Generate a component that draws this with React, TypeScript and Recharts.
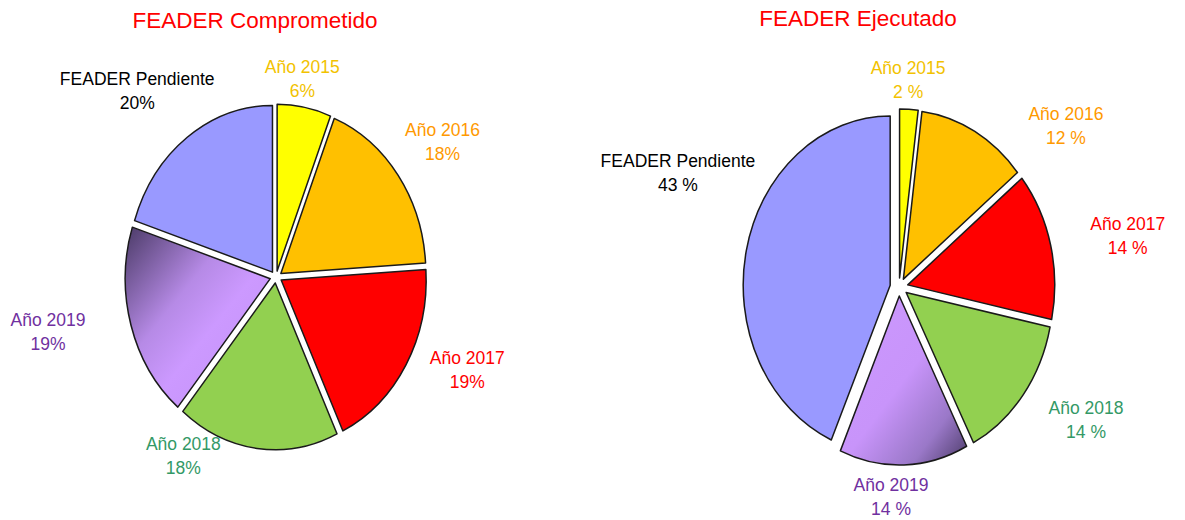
import React from 'react'
import { PieChart, Pie, Cell } from 'recharts'

// slice order runs clockwise from 12 o'clock
const sliceNames = ['Año 2015', 'Año 2016', 'Año 2017', 'Año 2018', 'Año 2019', 'FEADER Pendiente']
const comprometidoValues = [6, 18, 19, 18, 19, 20]
const ejecutadoValues = [2, 12, 14, 14, 14, 43]

const sliceColors = ['#ffff00', '#ffc000', '#ff0000', '#92d050', '#cc99ff', '#9999ff']
const labelColors = ['#f2c200', '#ff9900', '#ff0000', '#339966', '#7030a0', '#000000']

// label nudges away from the radial anchor, per slice
const leftNudge = [[-9, 15], [14, -8], [29, -17], [-69, -36], [-47, -5], [-28, -11]]
const rightNudge = [[-3, 12], [74, 31], [43, 1], [35, 0], [-14, -10], [-34, -69]]

const RAD = Math.PI / 180
const FONT = '"Liberation Sans", Arial, sans-serif'

type Stop = [number, string]

const leftStops: Stop[] = [[0, '#4a3a66'], [0.38, '#b68ae6'], [0.58, '#cc99ff'], [1, '#c290f4']]
const rightStops: Stop[] = [[0, '#cc99ff'], [0.5, '#c894fa'], [0.78, '#9a78c8'], [1, '#4a3a66']]

const makeShape = (ratio: number, explode: number, gradId: string, stops: Stop[]) => (props: any) => {
  const { cx, cy, outerRadius, startAngle, endAngle, fill } = props
  const a0 = startAngle * RAD
  const a1 = endAngle * RAD
  const mid = (a0 + a1) / 2
  const ox = cx + explode * Math.cos(mid)
  const oy = cy - explode * Math.sin(mid)
  const rx = outerRadius
  const ry = outerRadius * ratio
  const x0 = ox + rx * Math.cos(a0)
  const y0 = oy - ry * Math.sin(a0)
  const x1 = ox + rx * Math.cos(a1)
  const y1 = oy - ry * Math.sin(a1)
  const large = Math.abs(endAngle - startAngle) > 180 ? 1 : 0
  const sweep = startAngle > endAngle ? 1 : 0
  const d = `M${ox},${oy} L${x0},${y0} A${rx},${ry} 0 ${large} ${sweep} ${x1},${y1} Z`
  const useGrad = fill === '#cc99ff'
  return (
    <g>
      {useGrad && (
        <defs>
          <linearGradient id={gradId} x1="0" y1="0" x2="1" y2="1">
            {stops.map(([o, c]) => (
              <stop key={o} offset={o} stopColor={c} />
            ))}
          </linearGradient>
        </defs>
      )}
      <path d={d} fill={useGrad ? `url(#${gradId})` : fill} stroke="#1a1a1a" strokeWidth={1.5} strokeLinejoin="round" />
    </g>
  )
}

const makeLabel = (ratio: number, nudge: number[][], suffix: string) => (props: any) => {
  const { cx, cy, midAngle, outerRadius, index, value } = props
  const k = 1.3
  const x = cx + k * outerRadius * Math.cos(midAngle * RAD) + nudge[index][0]
  const y = cy - k * outerRadius * ratio * Math.sin(midAngle * RAD) + nudge[index][1]
  return (
    <g>
      <text x={x} y={y - 6} textAnchor="middle" fill={labelColors[index]} fontSize={17.5} fontFamily={FONT}>
        {sliceNames[index]}
      </text>
      <text x={x} y={y + 18} textAnchor="middle" fill={labelColors[index]} fontSize={17.5} fontFamily={FONT}>
        {`${value}${suffix}`}
      </text>
    </g>
  )
}

const comprometidoData = sliceNames.map((name, i) => ({ name, value: comprometidoValues[i] }))
const ejecutadoData = sliceNames.map((name, i) => ({ name, value: ejecutadoValues[i] }))

const leftShape = makeShape(1.15, 6, 'grad2019left', leftStops)
const rightShape = makeShape(1.15, 9, 'grad2019right', rightStops)

const titleStyle: React.CSSProperties = {
  position: 'absolute',
  color: '#ff0000',
  fontFamily: FONT,
  fontSize: 22.5,
  whiteSpace: 'nowrap',
  transform: 'translateX(-50%)',
}

export default function App() {
  return (
    <div style={{ position: 'absolute', left: 0, top: 0, width: 1185, height: 520, background: '#fff', overflow: 'hidden' }}>
      <div style={{ ...titleStyle, left: 255, top: 8 }}>FEADER Comprometido</div>
      <div style={{ ...titleStyle, left: 858, top: 6 }}>FEADER Ejecutado</div>

      <div style={{ position: 'absolute', left: 0, top: 0 }}>
        <PieChart width={592} height={520}>
          <Pie
            data={comprometidoData}
            dataKey="value"
            cx={271}
            cy={272}
            outerRadius={145}
            startAngle={90}
            endAngle={-270}
            stroke="none"
            shape={leftShape}
            activeShape={leftShape}
            label={makeLabel(1.15, leftNudge, '%')}
            labelLine={false}
            isAnimationActive={false}
          >
            {comprometidoData.map((d, i) => (
              <Cell key={d.name} fill={sliceColors[i]} />
            ))}
          </Pie>
        </PieChart>
      </div>

      <div style={{ position: 'absolute', left: 592, top: 0 }}>
        <PieChart width={593} height={520}>
          <Pie
            data={ejecutadoData}
            dataKey="value"
            cx={302}
            cy={282}
            outerRadius={147}
            startAngle={90}
            endAngle={-270}
            stroke="none"
            shape={rightShape}
            activeShape={rightShape}
            label={makeLabel(1.15, rightNudge, ' %')}
            labelLine={false}
            isAnimationActive={false}
          >
            {ejecutadoData.map((d, i) => (
              <Cell key={d.name} fill={sliceColors[i]} />
            ))}
          </Pie>
        </PieChart>
      </div>
    </div>
  )
}
